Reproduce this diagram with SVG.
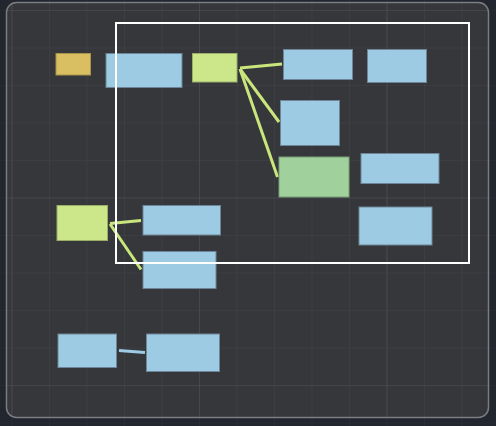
<svg xmlns="http://www.w3.org/2000/svg" width="496" height="426" viewBox="0 0 496 426">
<defs>
<pattern id="grid" x="11.5" y="10" width="37.5" height="37.5" patternUnits="userSpaceOnUse">
<path d="M0 0V37.5M0 0H37.5" fill="none" stroke="#41444b" stroke-width="1"/>
</pattern>
<pattern id="gridMajor" x="11.5" y="10" width="187.5" height="187.5" patternUnits="userSpaceOnUse">
<path d="M0 0V187.5M0 0H187.5" fill="none" stroke="#4a4d54" stroke-width="1.2"/>
</pattern>
<pattern id="gridOut" x="11.5" y="10" width="37.5" height="37.5" patternUnits="userSpaceOnUse">
<path d="M0 0V37.5M0 0H37.5" fill="none" stroke="#2c3039" stroke-width="1"/>
</pattern>
<clipPath id="panelClip"><rect x="6.5" y="2.5" width="482" height="415" rx="10"/></clipPath>
</defs>
<style>
.blue{fill:#9ecbe4;stroke:#6d8596;stroke-width:1}
.lime{fill:#cce78a;stroke:#9aae6a;stroke-width:1}
.gold{fill:#d9bf62;stroke:#a89449;stroke-width:1}
.green{fill:#a0d09c;stroke:#7a9d77;stroke-width:1}
.lc{stroke:#c9e67c;stroke-width:3;fill:none;stroke-linecap:butt}
.bc{stroke:#9ecbe4;stroke-width:3;fill:none}
</style>
<rect width="496" height="426" fill="#22262e"/>
<rect width="496" height="426" fill="url(#gridOut)"/>
<rect x="6.5" y="2.5" width="482" height="415" rx="10" fill="#36373b"/>
<g clip-path="url(#panelClip)">
<rect width="496" height="426" fill="url(#grid)"/>
<rect width="496" height="426" fill="url(#gridMajor)"/>
</g>
<rect x="6.5" y="2.5" width="482" height="415" rx="10" fill="none" stroke="#7c7d80" stroke-width="1.5"/>
<g id="connectors">
<line class="lc" x1="240" y1="68" x2="282" y2="64"/>
<line class="lc" x1="240" y1="69" x2="279" y2="122"/>
<line class="lc" x1="240" y1="69" x2="277.5" y2="177"/>
<line class="lc" x1="110" y1="223.5" x2="141" y2="220.5"/>
<line class="lc" x1="110" y1="224" x2="141" y2="269.5"/>
<line class="bc" x1="119" y1="350.5" x2="145" y2="352.5"/>
</g>
<g id="n1"><rect class="gold" x="56" y="53.5" width="34.5" height="21.5"/></g>
<g id="n2"><rect class="blue" x="106" y="53.5" width="76" height="34"/></g>
<g id="n3"><rect class="lime" x="192.5" y="53.5" width="44.5" height="28.5"/></g>
<g id="n4"><rect class="blue" x="283.5" y="49.5" width="69" height="30"/></g>
<g id="n5"><rect class="blue" x="367.5" y="49.5" width="59" height="33"/></g>
<g id="n6"><rect class="blue" x="280.5" y="100.5" width="59" height="45"/></g>
<g id="n7"><rect class="green" x="279" y="157" width="70" height="40"/></g>
<g id="n8"><rect class="blue" x="361" y="153.5" width="78" height="30"/></g>
<g id="n9"><rect class="blue" x="359" y="207" width="73" height="38"/></g>
<g id="n10"><rect class="lime" x="57" y="205.5" width="50.5" height="35"/></g>
<g id="n11"><rect class="blue" x="143" y="205.5" width="77.5" height="29.5"/></g>
<g id="n12"><rect class="blue" x="143" y="251.5" width="73" height="37"/></g>
<g id="n13"><rect class="blue" x="58" y="334" width="58.5" height="33.5"/></g>
<g id="n14"><rect class="blue" x="146.5" y="334" width="73" height="37.5"/></g>
<g id="selection"><rect x="116" y="23" width="353" height="240" fill="none" stroke="#ffffff" stroke-width="2"/></g>
</svg>
